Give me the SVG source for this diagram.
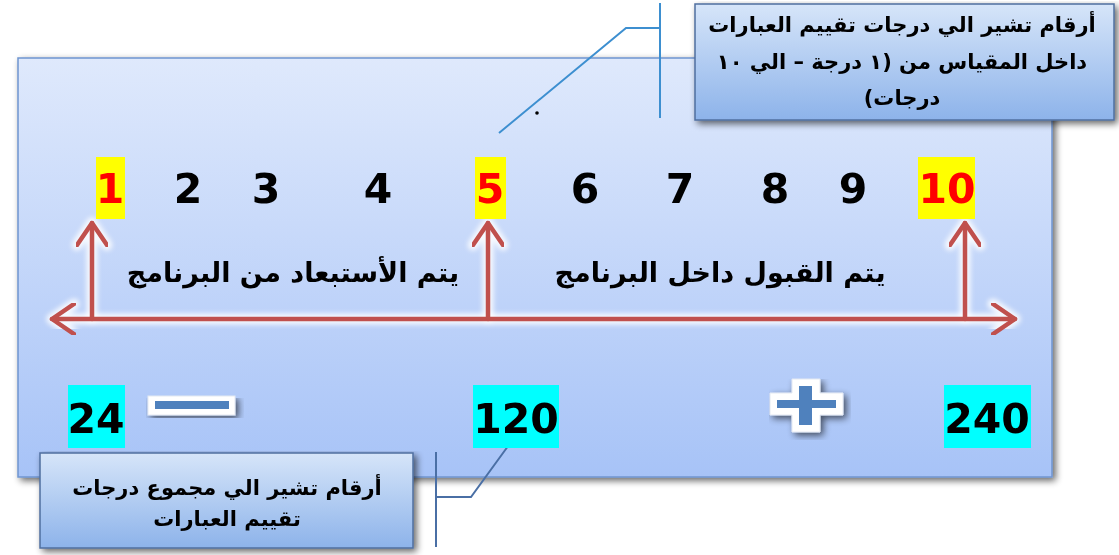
<svg xmlns="http://www.w3.org/2000/svg" width="1119" height="555" viewBox="0 0 1119 555">
  <style>
    .num { font-family: "DejaVu Sans", "Liberation Sans", sans-serif; font-weight: bold; font-size: 41px; text-anchor: middle; fill: #000; }
    .hot { fill: #ff0000; }
    .ar { font-family: "DejaVu Sans", "Noto Sans", sans-serif; font-weight: bold; text-anchor: middle; direction: rtl; fill: #000; }
    .lbl { font-size: 27px; }
    .note { font-size: 21px; }
    .leader { fill: none; stroke-width: 2; }
    .arrow { fill: none; stroke: #c0504d; stroke-width: 4.5; stroke-linecap: round; stroke-linejoin: round; }
    .glow { fill: none; stroke: #ffffff; stroke-width: 11; stroke-linecap: round; stroke-linejoin: round; opacity: 0.85; }
  </style>
  <defs>
    <linearGradient id="panelFill" x1="0" y1="0" x2="0" y2="1">
      <stop offset="0" stop-color="#dfe9fc"/>
      <stop offset="1" stop-color="#a7c3f7"/>
    </linearGradient>
    <linearGradient id="noteFill" x1="0" y1="0" x2="0" y2="1">
      <stop offset="0" stop-color="#d6e5f9"/>
      <stop offset="1" stop-color="#8db3ea"/>
    </linearGradient>
    <filter id="shadow" x="-5%" y="-5%" width="115%" height="120%">
      <feGaussianBlur in="SourceAlpha" stdDeviation="3.5"/>
      <feOffset dx="3" dy="3" result="b"/>
      <feComponentTransfer><feFuncA type="linear" slope="0.6"/></feComponentTransfer>
      <feMerge><feMergeNode/><feMergeNode in="SourceGraphic"/></feMerge>
    </filter>
    <filter id="soft" x="-10%" y="-10%" width="120%" height="120%">
      <feGaussianBlur stdDeviation="2.5"/>
    </filter>
    <marker id="chev" viewBox="-24 -16 28 32" refX="0" refY="0" markerWidth="28" markerHeight="32" markerUnits="userSpaceOnUse" orient="auto-start-reverse">
      <path d="M-22,-15 L0,0 L-22,15" fill="none" stroke="#c0504d" stroke-width="4.5" stroke-linecap="round" stroke-linejoin="round"/>
    </marker>
    <marker id="chevGlow" viewBox="-28 -20 34 40" refX="0" refY="0" markerWidth="34" markerHeight="40" markerUnits="userSpaceOnUse" orient="auto-start-reverse">
      <path d="M-22,-15 L0,0 L-22,15" fill="none" stroke="#ffffff" stroke-width="11" stroke-linecap="round" stroke-linejoin="round"/>
    </marker>
  </defs>

  <rect width="1119" height="555" fill="#ffffff"/>

  <!-- main panel -->
  <g id="panel">
    <rect x="18" y="58" width="1034" height="419" fill="url(#panelFill)" stroke="#6f95d0" stroke-width="1.5" filter="url(#shadow)"/>
  </g>

  <!-- connectors: scale axis and leader lines -->
  <g id="connectors">
    <g filter="url(#soft)">
      <path class="glow" d="M52,319 L1015,319" marker-start="url(#chevGlow)" marker-end="url(#chevGlow)"/>
      <path class="glow" d="M92,319 L92,223" marker-end="url(#chevGlow)"/>
      <path class="glow" d="M488,319 L488,223" marker-end="url(#chevGlow)"/>
      <path class="glow" d="M965,319 L965,223" marker-end="url(#chevGlow)"/>
    </g>
    <path class="arrow" d="M52,319 L1015,319" marker-start="url(#chev)" marker-end="url(#chev)"/>
    <path class="arrow" d="M92,319 L92,223" marker-end="url(#chev)"/>
    <path class="arrow" d="M488,319 L488,223" marker-end="url(#chev)"/>
    <path class="arrow" d="M965,319 L965,223" marker-end="url(#chev)"/>

    <path class="leader" stroke="#3d8fd0" d="M660,3 L660,118 M660,28 L626,28 L499,133"/>
    <path class="leader" stroke="#4a6fa5" d="M436,452 L436,547 M436,497 L471,497 L511,442"/>
  </g>

  <g id="dot"><circle cx="537" cy="113" r="1.8" fill="#000"/></g>

  <!-- grade numbers 1..10 -->
  <g id="grades">
    <rect x="96" y="157" width="29" height="62" fill="#ffff00"/>
    <rect x="475" y="157" width="31" height="62" fill="#ffff00"/>
    <rect x="918" y="157" width="57" height="62" fill="#ffff00"/>
    <text class="num hot" x="110" y="203">1</text>
    <text class="num" x="188" y="203">2</text>
    <text class="num" x="266" y="203">3</text>
    <text class="num" x="378" y="203">4</text>
    <text class="num hot" x="490" y="203">5</text>
    <text class="num" x="585" y="203">6</text>
    <text class="num" x="680" y="203">7</text>
    <text class="num" x="775" y="203">8</text>
    <text class="num" x="853" y="203">9</text>
    <text class="num hot" x="947" y="203">10</text>
  </g>

  <g id="label-reject">
    <text class="ar lbl" x="293" y="282">يتم الأستبعاد من البرنامج</text>
  </g>
  <g id="label-accept">
    <text class="ar lbl" x="720" y="282">يتم القبول داخل البرنامج</text>
  </g>

  <!-- totals -->
  <g id="totals">
    <rect x="68" y="385" width="57" height="63" fill="#00ffff"/>
    <rect x="473" y="385" width="86" height="63" fill="#00ffff"/>
    <rect x="944" y="385" width="87" height="63" fill="#00ffff"/>
    <text class="num" x="96" y="433">24</text>
    <text class="num" x="516" y="433">120</text>
    <text class="num" x="987" y="433">240</text>
  </g>

  <!-- minus sign -->
  <g id="minus" filter="url(#shadow)">
    <rect x="148" y="396" width="87" height="19" fill="#ffffff" stroke="#e4e9f2" stroke-width="1"/>
    <rect x="155" y="401" width="74" height="8" fill="#4f81bd"/>
  </g>

  <!-- plus sign -->
  <g id="plus" filter="url(#shadow)">
    <path d="M792,379 L820,379 L820,393 L843,393 L843,415 L820,415 L820,432 L792,432 L792,415 L770,415 L770,393 L792,393 Z" fill="#ffffff" stroke="#e4e9f2" stroke-width="1"/>
    <path d="M799,386 L812,386 L812,400 L836,400 L836,408 L812,408 L812,425 L799,425 L799,408 L777,408 L777,400 L799,400 Z" fill="#4f81bd"/>
  </g>

  <!-- callout: scale grades -->
  <g id="note-grades">
    <rect x="695" y="4" width="419" height="116" fill="url(#noteFill)" stroke="#4f6f9f" stroke-width="1.5" filter="url(#shadow)"/>
    <text class="ar note" x="902" y="32">أرقام تشير الي درجات تقييم العبارات</text>
    <text class="ar note" x="902" y="69">داخل المقياس من (١ درجة – الي ١٠</text>
    <text class="ar note" x="902" y="105">درجات)</text>
  </g>

  <!-- callout: totals -->
  <g id="note-totals">
    <rect x="40" y="453" width="373" height="95" fill="url(#noteFill)" stroke="#4f6f9f" stroke-width="1.5" filter="url(#shadow)"/>
    <text class="ar note" x="227" y="495">أرقام تشير الي مجموع درجات</text>
    <text class="ar note" x="227" y="526">تقييم العبارات</text>
  </g>
</svg>
